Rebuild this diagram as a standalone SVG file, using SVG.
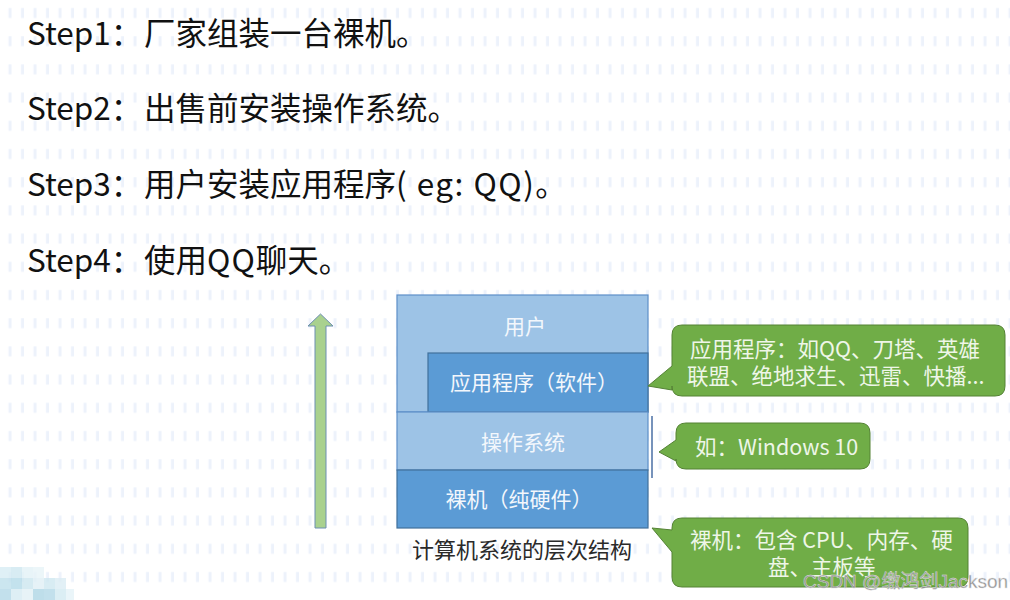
<svg xmlns="http://www.w3.org/2000/svg" width="1010" height="600" viewBox="0 0 1010 600">
<defs>
<pattern id="dots" patternUnits="userSpaceOnUse" width="12.5" height="28.2">
<rect x="8.5" y="8" width="3" height="10" fill="#edf2fb"/>
</pattern>
</defs>
<style>
.step{font-family:"Noto Sans CJK SC","Noto Sans",sans-serif;font-size:31.5px;fill:#111}
.lbl{font-family:"Noto Sans CJK SC",sans-serif;font-size:21px;fill:#f3f7fc;text-anchor:middle}
.co{font-family:"Noto Sans CJK SC",sans-serif;font-size:21.5px;fill:#eef6e8}
.cap{font-family:"Noto Sans CJK SC",sans-serif;font-size:22px;fill:#2a2a2a;text-anchor:middle}
.light{fill:#9dc3e6;stroke:#5e8fc8;stroke-width:1.2}
.dark{fill:#5b9bd5;stroke:#41719c;stroke-width:1.2}
.callout{fill:#70ad47;stroke:#548235;stroke-width:1}
</style>
<rect width="1010" height="600" fill="#ffffff"/>
<rect width="1010" height="600" fill="url(#dots)"/>
<g id="mosaic" opacity="0.8">
<rect x="0" y="567" width="11" height="11" fill="#d8edf4"/>
<rect x="11" y="567" width="11" height="11" fill="#cfe8f1"/>
<rect x="22" y="567" width="11" height="11" fill="#e3f2f7"/>
<rect x="33" y="567" width="11" height="11" fill="#e8f4f8"/>
<rect x="0" y="578" width="11" height="11" fill="#bfe0ec"/>
<rect x="11" y="578" width="11" height="11" fill="#b5dbe9"/>
<rect x="22" y="578" width="11" height="11" fill="#cde7f0"/>
<rect x="33" y="578" width="11" height="11" fill="#e0f0f6"/>
<rect x="44" y="578" width="11" height="11" fill="#cfe8f1"/>
<rect x="55" y="578" width="11" height="11" fill="#dcedf4"/>
<rect x="0" y="589" width="11" height="11" fill="#b3d9e8"/>
<rect x="11" y="589" width="11" height="11" fill="#d6ecf3"/>
<rect x="22" y="589" width="11" height="11" fill="#e2f1f6"/>
<rect x="33" y="589" width="11" height="11" fill="#aed6e6"/>
<rect x="44" y="589" width="11" height="11" fill="#b3d9e8"/>
<rect x="55" y="589" width="11" height="11" fill="#d3eaf2"/>
<rect x="66" y="589" width="8" height="11" fill="#e6f3f8"/>
</g>
<g id="steps">
<text class="step" x="27" y="45">Step1：<tspan x="144">厂家组装一台裸机。</tspan></text>
<text class="step" x="27" y="120">Step2：<tspan x="144">出售前安装操作系统。</tspan></text>
<text class="step" x="27" y="196">Step3：<tspan x="144">用户安装应用程序</tspan><tspan letter-spacing="1.5">( eg: QQ)</tspan>。</text>
<text class="step" x="27" y="272">Step4：<tspan x="144">使用</tspan><tspan letter-spacing="1">QQ</tspan>聊天。</text>
</g>
<g id="connectors">
<polygon points="315,528 315,326 308,326 320.5,314 333,326 326,326 326,528" fill="#a9d18e" stroke="#6d8fb3" stroke-width="1"/>
<line x1="652" y1="416" x2="652" y2="478" stroke="#4a6fa5" stroke-width="1.5"/>
</g>
<g id="user">
<rect class="light" x="397" y="295" width="251" height="117"/>
<text class="lbl" x="525" y="334">用户</text>
</g>
<g id="apps">
<rect class="dark" x="428" y="353" width="220" height="59"/>
<text class="lbl" x="534" y="390">应用程序（软件）</text>
</g>
<g id="os">
<rect class="light" x="397" y="412" width="251" height="58"/>
<text class="lbl" x="523" y="450">操作系统</text>
</g>
<g id="hardware">
<rect class="dark" x="397" y="470" width="251" height="58"/>
<text class="lbl" x="519" y="507">裸机（纯硬件）</text>
</g>
<g id="caption">
<text class="cap" x="522" y="558">计算机系统的层次结构</text>
</g>
<g id="callout-apps">
<path class="callout" d="M682,325 H995 Q1005,325 1005,335 V386 Q1005,396 995,396 H682 Q672,396 672,386 V390 L648,386 L672,366 V335 Q672,325 682,325 Z"/>
<text class="co" x="690" y="357">应用程序：如QQ、刀塔、英雄</text>
<text class="co" x="687" y="384">联盟、绝地求生、迅雷、快播...</text>
</g>
<g id="callout-os">
<path class="callout" d="M686,423 H860 Q870,423 870,433 V459 Q870,469 860,469 H686 Q676,469 676,459 V461 L659,452 L676,440 V433 Q676,423 686,423 Z"/>
<text class="co" x="695" y="455">如：Windows 10</text>
</g>
<g id="callout-hw">
<path class="callout" d="M682,518 H958 Q968,518 968,528 V577 Q968,587 958,587 H682 Q672,587 672,577 V552 L652,528 L672,530 V528 Q672,518 682,518 Z"/>
<text class="co" x="690" y="548">裸机：包含 CPU、内存、硬</text>
<text class="co" x="768" y="575">盘、主板等</text>
</g>
<g id="watermark">
<text x="803" y="588" font-family="Liberation Sans,Arial,sans-serif" font-size="19" fill="#8f8f8f" stroke="#e6e6e6" stroke-width="0.4">CSDN @<tspan font-family="Noto Sans CJK SC,sans-serif">缴鸿剑</tspan>Jackson</text>
</g>
</svg>
